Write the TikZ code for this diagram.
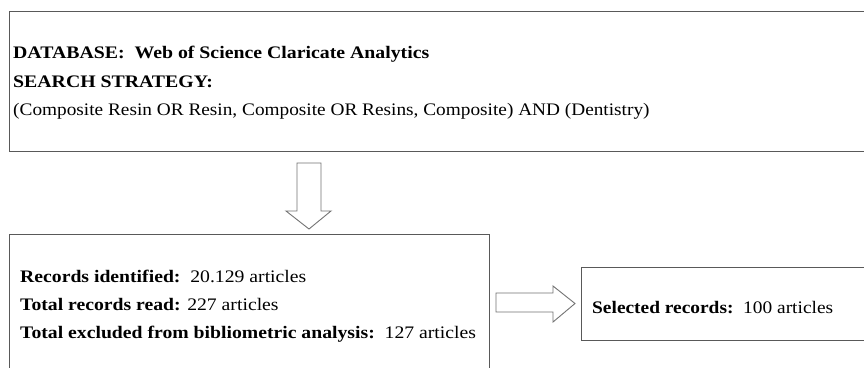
\documentclass[tikz,border=0pt]{standalone}
\usepackage{fontspec}
\setmainfont{Liberation Serif}
\usepackage{graphicx}
\begin{document}
\begin{tikzpicture}[x=1pt,y=-1pt,
  boxline/.style={draw=black!65, line width=1.1pt},
  blockarrow/.style={draw=black!55, line width=0.9pt, fill=white, line join=miter},
  txt/.style={anchor=base west, inner sep=0pt, font=\fontsize{20}{24}\selectfont}
]
\clip (0,0) rectangle (864,367);
\fill[white] (0,0) rectangle (864,367);
% boxes
\node[boxline, anchor=north west, minimum width=880pt, minimum height=140pt, inner sep=0pt] (top) at (9,11) {};
\node[boxline, anchor=north west, minimum width=480pt, minimum height=160pt, inner sep=0pt] (left) at (9,234) {};
\node[boxline, anchor=north west, minimum width=300pt, minimum height=73pt, inner sep=0pt] (right) at (581,267) {};
% texts
\node[txt] (t1) at (13,58) {\scalebox{0.99}[0.88]{\textbf{DATABASE:\ \ Web of Science Claricate Analytics}}};
\node[txt] (t2) at (13,87) {\scalebox{0.99}[0.88]{\textbf{SEARCH STRATEGY:}}};
\node[txt] (t3) at (13,115) {\scalebox{0.965}[0.88]{(Composite Resin OR Resin, Composite OR Resins, Composite) AND (Dentistry)}};
\node[txt] (l1) at (20,282) {\scalebox{0.985}[0.88]{\textbf{Records identified:}\ \ 20.129 articles}};
\node[txt] (l2) at (20,310) {\scalebox{0.985}[0.88]{\textbf{Total records read:} 227 articles}};
\node[txt] (l3) at (20,338) {\scalebox{0.985}[0.88]{\textbf{Total excluded from bibliometric analysis:}\ \ 127 articles}};
\node[txt] (r1) at (592,313) {\scalebox{0.97}[0.88]{\textbf{Selected records:}\ \ 100 articles}};
% block arrows
\draw[blockarrow] (297,163) -- (321,163) -- (321,211) -- (331,211) -- (309,229) -- (286,211) -- (297,211) -- cycle;
\draw[blockarrow] (496,293) -- (553,293) -- (553,286) -- (575,303.5) -- (553,322) -- (553,312) -- (496,312) -- cycle;
\end{tikzpicture}
\end{document}
